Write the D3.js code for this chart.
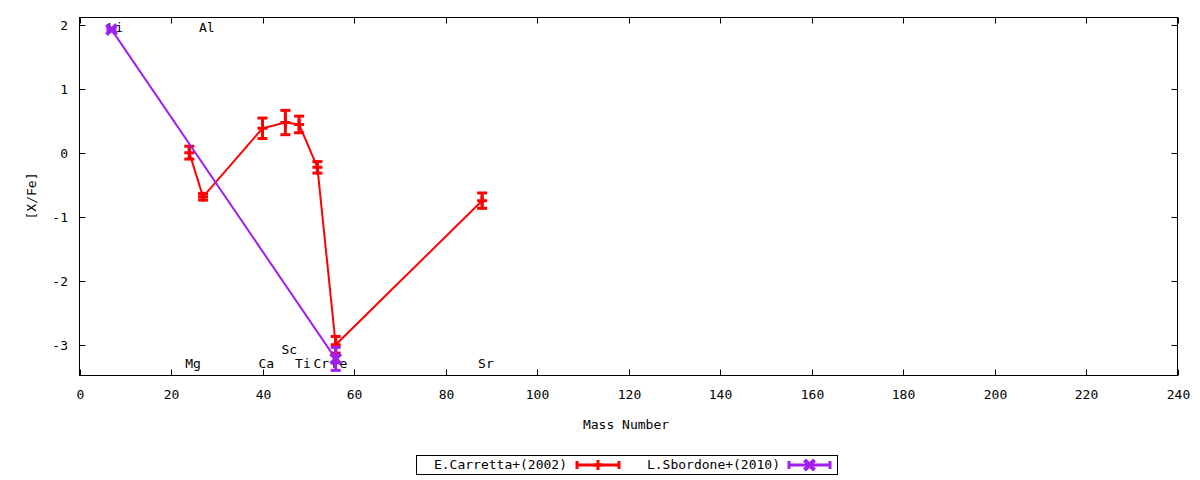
<!DOCTYPE html>
<html><head><meta charset="utf-8">
<script src="https://cdn.jsdelivr.net/npm/d3@7"></script>
<style>
body{margin:0;background:#fff;}
text{font-family:"DejaVu Sans Mono",monospace;font-size:13px;fill:#000;}
</style></head>
<body><svg id="c" width="1200" height="480"></svg>
<script>
// Carretta+(2002)
const carMass = [24, 27, 40, 45, 48, 52, 56, 88];
const carVal  = [0.0, -0.69, 0.38, 0.47, 0.44, -0.23, -3.0, -0.75];
const carErr  = [0.10, 0.05, 0.16, 0.19, 0.13, 0.09, 0.13, 0.12];
// Sbordone+(2010)
const sboMass = [7, 56];
const sboVal  = [1.92, -3.22];
const sboErr  = [0.02, 0.18];
// element labels
const labText = ["Li", "Al", "Mg", "Ca", "Sc", "Ti", "Cr", "Fe", "Sr"];
const labMass = [7, 27, 24, 40, 45, 48, 52, 56, 88];
const labY    = [1.95, 1.95, -3.3, -3.3, -3.08, -3.3, -3.3, -3.3, -3.3];
const xTicks = [0,20,40,60,80,100,120,140,160,180,200,220,240];
const yTicks = [-3,-2,-1,0,1,2];

const svg = d3.select("#c");
const L=79.5, R=1177.5, T=17.5, B=375.5;
const x = d3.scaleLinear().domain([0,240]).range([L,R]);
const y = d3.scaleLinear().domain([-3.48,2.11]).range([B,T]);

svg.append("rect").attr("x",L).attr("y",T).attr("width",R-L).attr("height",B-T)
  .attr("fill","none").attr("stroke","#000").attr("stroke-width",1);

const tl=6;
const gx = svg.append("g");
xTicks.forEach(t=>{
  const px=Math.round(x(t))+0.5;
  gx.append("line").attr("x1",px).attr("x2",px).attr("y1",B).attr("y2",B-tl).attr("stroke","#000");
  gx.append("line").attr("x1",px).attr("x2",px).attr("y1",T).attr("y2",T+tl).attr("stroke","#000");
  gx.append("text").attr("x",px).attr("y",399).attr("text-anchor","middle").text(t);
});
yTicks.forEach(t=>{
  const py=Math.round(y(t))+0.5;
  gx.append("line").attr("x1",L).attr("x2",L+tl).attr("y1",py).attr("y2",py).attr("stroke","#000");
  gx.append("line").attr("x1",R).attr("x2",R-tl).attr("y1",py).attr("y2",py).attr("stroke","#000");
  gx.append("text").attr("x",68).attr("y",py+4).attr("text-anchor","end").text(t);
});
svg.append("text").attr("x",626).attr("y",429).attr("text-anchor","middle").text("Mass Number");
svg.append("text").attr("transform","translate(36,196) rotate(-90)").attr("text-anchor","middle").text("[X/Fe]");

labText.forEach((s,i)=>{
  svg.append("text").attr("x",x(labMass[i])-4).attr("y",y(labY[i])+4).text(s);
});

const line = d3.line().x(d=>x(d[0])).y(d=>y(d[1]));
function series(mass,val,err,color,pt){
  const g = svg.append("g");
  const pts = mass.map((m,i)=>[m,val[i],err[i]]);
  g.append("path").attr("d",line(pts)).attr("fill","none").attr("stroke",color).attr("stroke-width",2);
  pts.forEach(p=>{
    const px=x(p[0]), y1=y(p[1]+p[2]), y2=y(p[1]-p[2]);
    g.append("line").attr("x1",px).attr("x2",px).attr("y1",y1).attr("y2",y2).attr("stroke",color).attr("stroke-width",3);
    [y1,y2].forEach(yy=>g.append("line").attr("x1",px-5).attr("x2",px+5).attr("y1",yy).attr("y2",yy).attr("stroke",color).attr("stroke-width",3));
    drawPoint(g,px,y(p[1]),color,pt);
  });
}
function drawPoint(g,px,py,color,pt){
  const s=5;
  if(pt==="plus"){
    g.append("path").attr("d",`M${px-s},${py}H${px+s}M${px},${py-s}V${py+s}`).attr("stroke",color).attr("stroke-width",3);
  } else {
    g.append("path").attr("d",`M${px-s},${py-s}L${px+s},${py+s}M${px-s},${py+s}L${px+s},${py-s}`).attr("stroke",color).attr("stroke-width",4);
  }
}
series(carMass,carVal,carErr,"#ff0000","plus");
series(sboMass,sboVal,sboErr,"#a020f0","x");

svg.append("rect").attr("x",416.5).attr("y",455.5).attr("width",421).attr("height",19).attr("fill","none").attr("stroke","#000");
const leg=[["E.Carretta+(2002)","#ff0000","plus",567,577,619],["L.Sbordone+(2010)","#a020f0","x",780,789,830]];
leg.forEach(l=>{
  svg.append("text").attr("x",l[3]).attr("y",469).attr("text-anchor","end").text(l[0]);
  const g=svg.append("g"); const yy=465;
  g.append("line").attr("x1",l[4]).attr("x2",l[5]).attr("y1",yy).attr("y2",yy).attr("stroke",l[1]).attr("stroke-width",3);
  [l[4],l[5]].forEach(xx=>g.append("line").attr("x1",xx).attr("x2",xx).attr("y1",yy-4).attr("y2",yy+4).attr("stroke",l[1]).attr("stroke-width",3));
  drawPoint(g,(l[4]+l[5])/2,yy,l[1],l[2]);
});
</script></body></html>
